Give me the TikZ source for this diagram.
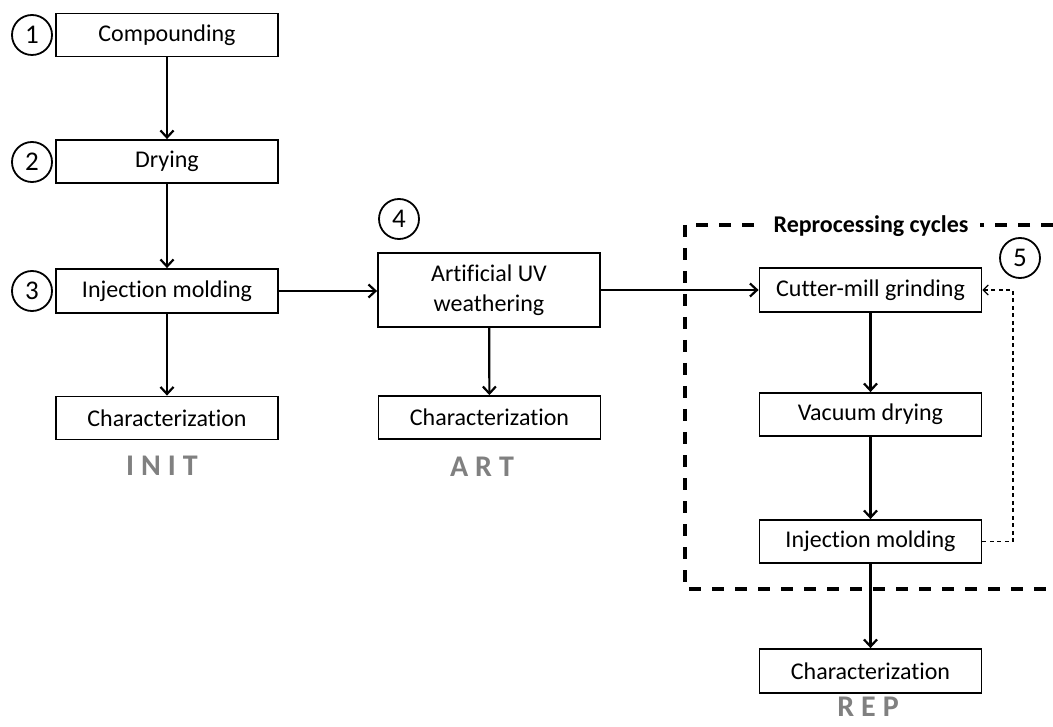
\documentclass[tikz,border=0pt]{standalone}
\usepackage{fontspec}
\setmainfont{Carlito}[Ligatures=NoCommon]
\usetikzlibrary{arrows.meta}
\definecolor{labgray}{HTML}{808080}
\begin{document}
\begin{tikzpicture}[x=1pt,y=-1pt,
  box/.style={draw, line width=1.8pt, minimum width=222pt, minimum height=43pt, inner sep=0pt,
    font=\fontsize{24}{30}\selectfont, align=center},
  num/.style={draw, circle, line width=1.8pt, minimum size=40pt, inner sep=0pt,
    font=\fontsize{27}{30}\selectfont},
  lab/.style={font=\fontsize{30}{30}\selectfont\bfseries, text=labgray, inner sep=0pt},
  flow/.style={line width=2.2pt, -{Straight Barb[length=7pt,width=13pt,line width=2.2pt]}},
  fb/.style={line width=1.2pt, dash pattern=on 4pt off 3.5pt, -{Straight Barb[length=5pt,width=10pt,line width=1.2pt]}},
  bigdash/.style={line width=3.2pt, dash pattern=on 12pt off 11pt},
]
\useasboundingbox (0,0) rectangle (1053,727);

% left column
\node[box] (comp) at (167,35) {Compounding};
\node[box] (dry) at (167,161.5) {Drying};
\node[box, minimum height=44pt] (inj) at (167,291) {Injection molding};
\node[box] (char1) at (167,418) {Characterization};
\node[lab] (init) at (162,466) {I\hspace{7pt}N\hspace{7pt}I\hspace{7pt}T};

\node[num] (n1) at (32,35) {1};
\node[num] (n2) at (32,162) {2};
\node[num] (n3) at (32,291) {3};

% middle column
\node[box, minimum height=74pt] (uv) at (489,290) {Artificial UV\\weathering};
\node[box] (char2) at (489.5,417.5) {Characterization};
\node[lab] (art) at (482,467) {A\hspace{7pt}R\hspace{7pt}T};
\node[num] (n4) at (399,219) {4};

% right column
\node[box, minimum height=44pt] (cut) at (870.5,290) {Cutter-mill grinding};
\node[box] (vac) at (870.5,414.5) {Vacuum drying};
\node[box] (inj2) at (870.5,541.5) {Injection molding};
\node[box, minimum height=44pt] (char3) at (870.5,671) {Characterization};
\node[lab] (rep) at (868,707) {R\hspace{7pt}E\hspace{7pt}P};
\node[num] (n5) at (1020,258) {5};

% reprocessing frame
\coordinate (ftr) at (1053,225);
\coordinate (ftl) at (685,225);
\coordinate (fbl) at (685,589);
\coordinate (fbr) at (1053,589);
\draw[bigdash] (ftr) -- (ftl) -- (fbl) -- (fbr);
\node[fill=white, inner xsep=12pt, inner ysep=2pt, font=\fontsize{24}{30}\selectfont\bfseries] (title) at (871,226) {Reprocessing cycles};

% connectors
\draw[flow] (comp) -- (dry);
\draw[flow] (dry) -- (inj);
\draw[flow] (inj) -- (char1);
\draw[flow] (inj.east) -- (uv.west |- inj.east);
\draw[flow] (uv) -- (char2);
\draw[flow] (uv.east |- cut.west) -- (cut.west);
\draw[flow] (cut) -- (vac);
\draw[flow] (vac) -- (inj2);
\draw[flow] (inj2) -- (char3);

\coordinate (fbx) at (1013,0);
\draw[fb] (inj2.east) -- (inj2.east -| fbx) -- (cut.east -| fbx) -- (cut.east);
\end{tikzpicture}
\end{document}
